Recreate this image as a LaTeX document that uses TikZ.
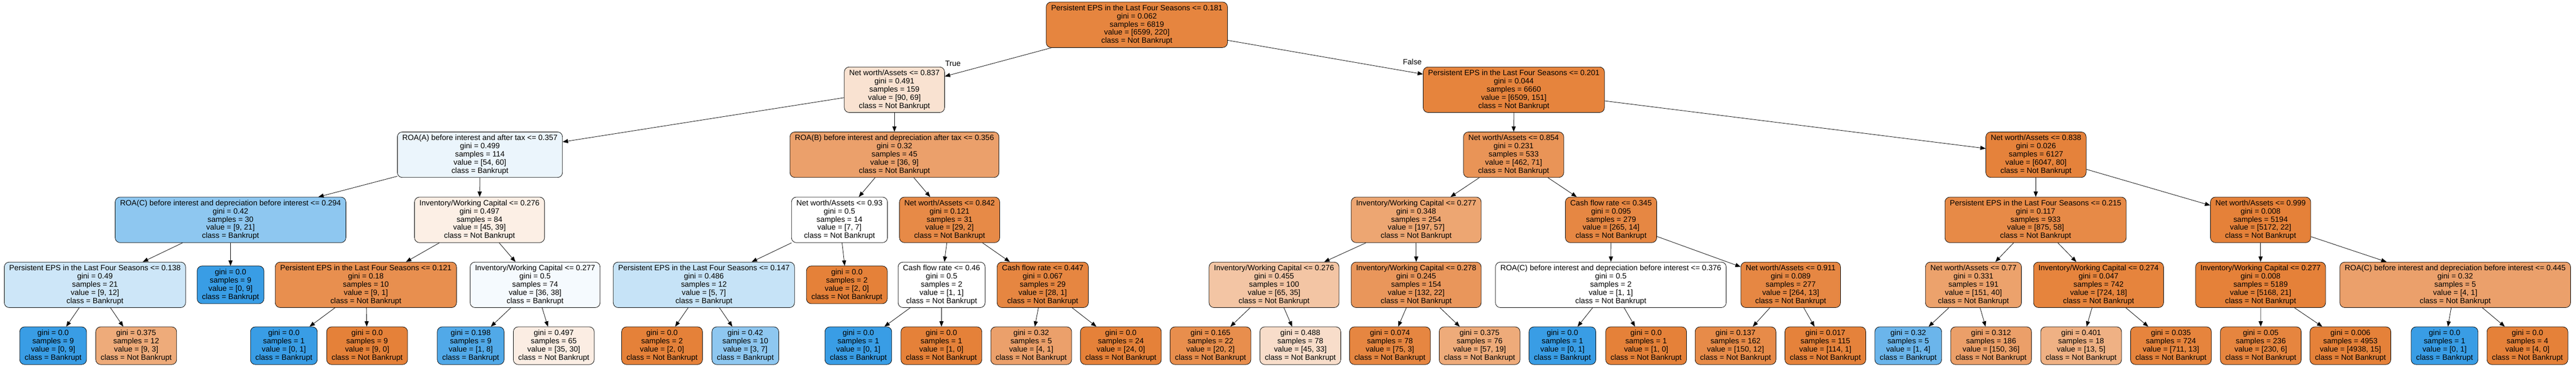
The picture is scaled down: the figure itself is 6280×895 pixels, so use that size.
\documentclass[tikz,border=0pt]{standalone}
\usepackage{fontspec}
\setmainfont{Liberation Sans}
\usetikzlibrary{arrows.meta, positioning}
\definecolor{nbk}{RGB}{229,129,57}
\definecolor{bk}{RGB}{57,157,229}

\begin{document}
\begin{tikzpicture}[
    x=1pt, y=-1pt,
    every node/.style={draw, rounded corners=12pt, line width=1pt, align=center, inner xsep=12pt, font=\fontsize{18.7pt}{20pt}\selectfont}, % one look for all boxes
    split/.style={minimum height=111pt},
    leaf/.style={minimum height=92pt},
    line/.style={draw, -{Triangle[length=13pt, width=10pt]}, line width=1pt},
    edgelabel/.style={draw=none, fill=none, inner sep=0pt}
]

\path[use as bounding box, fill=white] (0,0) rectangle (6280,895);

% Root
\node[split, fill=nbk!97] (r) at (2771.5,60.5) {Persistent EPS in the Last Four Seasons <= 0.181\\ gini = 0.062\\ samples = 6819\\ value = [6599, 220]\\ class = Not Bankrupt};

% Depth 1
\node[split, fill=nbk!23] (rl) at (2180.5,219) {Net worth/Assets <= 0.837\\ gini = 0.491\\ samples = 159\\ value = [90, 69]\\ class = Not Bankrupt};
\node[split, fill=nbk!98, node distance=1510pt, right of=rl] (rr) {Persistent EPS in the Last Four Seasons <= 0.201\\ gini = 0.044\\ samples = 6660\\ value = [6509, 151]\\ class = Not Bankrupt};

% Depth 2
\node[split, fill=bk!10] (rll) at (1170,377.5) {ROA(A) before interest and after tax <= 0.357\\ gini = 0.499\\ samples = 114\\ value = [54, 60]\\ class = Bankrupt};
\node[split, fill=nbk!75, node distance=1010.5pt, right of=rll] (rlr) {ROA(B) before interest and depreciation after tax <= 0.356\\ gini = 0.32\\ samples = 45\\ value = [36, 9]\\ class = Not Bankrupt};
\node[split, fill=nbk!85, node distance=1509.5pt, right of=rlr] (rrl) {Net worth/Assets <= 0.854\\ gini = 0.231\\ samples = 533\\ value = [462, 71]\\ class = Not Bankrupt};
\node[split, fill=nbk!99, node distance=1273.5pt, right of=rrl] (rrr) {Net worth/Assets <= 0.838\\ gini = 0.026\\ samples = 6127\\ value = [6047, 80]\\ class = Not Bankrupt};

% Depth 3
\node[split, fill=bk!57] (rlll) at (562,536.5) {ROA(C) before interest and depreciation before interest <= 0.294\\ gini = 0.42\\ samples = 30\\ value = [9, 21]\\ class = Bankrupt};
\node[split, fill=nbk!13, node distance=607pt, right of=rlll] (rllr) {Inventory/Working Capital <= 0.276\\ gini = 0.497\\ samples = 84\\ value = [45, 39]\\ class = Not Bankrupt};
\node[split, fill=white, node distance=877.5pt, right of=rllr] (rlrl) {Net worth/Assets <= 0.93\\ gini = 0.5\\ samples = 14\\ value = [7, 7]\\ class = Not Bankrupt};
\node[split, fill=nbk!93, node distance=268.5pt, right of=rlrl] (rlrr) {Net worth/Assets <= 0.842\\ gini = 0.121\\ samples = 31\\ value = [29, 2]\\ class = Not Bankrupt};
\node[split, fill=nbk!71, node distance=1137.5pt, right of=rlrr] (rrll) {Inventory/Working Capital <= 0.277\\ gini = 0.348\\ samples = 254\\ value = [197, 57]\\ class = Not Bankrupt};
\node[split, fill=nbk!95, node distance=475pt, right of=rrll] (rrlr) {Cash flow rate <= 0.345\\ gini = 0.095\\ samples = 279\\ value = [265, 14]\\ class = Not Bankrupt};
\node[split, fill=nbk!93, node distance=1035pt, right of=rrlr] (rrrl) {Persistent EPS in the Last Four Seasons <= 0.215\\ gini = 0.117\\ samples = 933\\ value = [875, 58]\\ class = Not Bankrupt};
\node[split, fill=nbk, node distance=548.5pt, right of=rrrl] (rrrr) {Net worth/Assets <= 0.999\\ gini = 0.008\\ samples = 5194\\ value = [5172, 22]\\ class = Not Bankrupt};

% Depth 4
\node[split, fill=bk!25] (rllll) at (231.5,695) {Persistent EPS in the Last Four Seasons <= 0.138\\ gini = 0.49\\ samples = 21\\ value = [9, 12]\\ class = Bankrupt};
\node[leaf, fill=bk, node distance=330.5pt, right of=rllll] (rlllr) {gini = 0.0\\ samples = 9\\ value = [0, 9]\\ class = Bankrupt};
\node[split, fill=nbk!89, node distance=330pt, right of=rlllr] (rllrl) {Persistent EPS in the Last Four Seasons <= 0.121\\ gini = 0.18\\ samples = 10\\ value = [9, 1]\\ class = Not Bankrupt};
\node[split, fill=bk!5, node distance=412.5pt, right of=rllrl] (rllrr) {Inventory/Working Capital <= 0.277\\ gini = 0.5\\ samples = 74\\ value = [36, 38]\\ class = Bankrupt};
\node[split, fill=bk!29, node distance=411.5pt, right of=rllrr] (rlrll) {Persistent EPS in the Last Four Seasons <= 0.147\\ gini = 0.486\\ samples = 12\\ value = [5, 7]\\ class = Bankrupt};
\node[leaf, fill=nbk, node distance=348.5pt, right of=rlrll] (rlrlr) {gini = 0.0\\ samples = 2\\ value = [2, 0]\\ class = Not Bankrupt};
\node[split, fill=white, node distance=231pt, right of=rlrlr] (rlrrl) {Cash flow rate <= 0.46\\ gini = 0.5\\ samples = 2\\ value = [1, 1]\\ class = Not Bankrupt};
\node[split, fill=nbk!96, node distance=246.5pt, right of=rlrrl] (rlrrr) {Cash flow rate <= 0.447\\ gini = 0.067\\ samples = 29\\ value = [28, 1]\\ class = Not Bankrupt};
\node[split, fill=nbk!46, node distance=564pt, right of=rlrrr] (rrlll) {Inventory/Working Capital <= 0.276\\ gini = 0.455\\ samples = 100\\ value = [65, 35]\\ class = Not Bankrupt};
\node[split, fill=nbk!83, node distance=346.5pt, right of=rrlll] (rrllr) {Inventory/Working Capital <= 0.278\\ gini = 0.245\\ samples = 154\\ value = [132, 22]\\ class = Not Bankrupt};
\node[split, fill=white, node distance=474.5pt, right of=rrllr] (rrlrl) {ROA(C) before interest and depreciation before interest <= 0.376\\ gini = 0.5\\ samples = 2\\ value = [1, 1]\\ class = Not Bankrupt};
\node[split, fill=nbk!95, node distance=438.5pt, right of=rrlrl] (rrlrr) {Net worth/Assets <= 0.911\\ gini = 0.089\\ samples = 277\\ value = [264, 13]\\ class = Not Bankrupt};
\node[split, fill=nbk!74, node distance=445.5pt, right of=rrlrr] (rrrll) {Net worth/Assets <= 0.77\\ gini = 0.331\\ samples = 191\\ value = [151, 40]\\ class = Not Bankrupt};
\node[split, fill=nbk!98, node distance=305pt, right of=rrrll] (rrrlr) {Inventory/Working Capital <= 0.274\\ gini = 0.047\\ samples = 742\\ value = [724, 18]\\ class = Not Bankrupt};
\node[split, fill=nbk, node distance=395pt, right of=rrrlr] (rrrrl) {Inventory/Working Capital <= 0.277\\ gini = 0.008\\ samples = 5189\\ value = [5168, 21]\\ class = Not Bankrupt};
\node[split, fill=nbk!75, node distance=474.5pt, right of=rrrrl] (rrrrr) {ROA(C) before interest and depreciation before interest <= 0.445\\ gini = 0.32\\ samples = 5\\ value = [4, 1]\\ class = Not Bankrupt};

% Depth 5 (leaves)
\node[leaf, fill=bk] (rlllll) at (129.5,843.5) {gini = 0.0\\ samples = 9\\ value = [0, 9]\\ class = Bankrupt};
\node[leaf, fill=nbk!67, node distance=202.5pt, right of=rlllll] (rllllr) {gini = 0.375\\ samples = 12\\ value = [9, 3]\\ class = Not Bankrupt};
\node[leaf, fill=bk, node distance=360pt, right of=rllllr] (rllrll) {gini = 0.0\\ samples = 1\\ value = [0, 1]\\ class = Bankrupt};
\node[leaf, fill=nbk, node distance=203pt, right of=rllrll] (rllrlr) {gini = 0.0\\ samples = 9\\ value = [9, 0]\\ class = Not Bankrupt};
\node[leaf, fill=bk!88, node distance=252.5pt, right of=rllrlr] (rllrrl) {gini = 0.198\\ samples = 9\\ value = [1, 8]\\ class = Bankrupt};
\node[leaf, fill=nbk!14, node distance=202.5pt, right of=rllrrl] (rllrrr) {gini = 0.497\\ samples = 65\\ value = [35, 30]\\ class = Not Bankrupt};
\node[leaf, fill=nbk, node distance=264pt, right of=rllrrr] (rlrlll) {gini = 0.0\\ samples = 2\\ value = [2, 0]\\ class = Not Bankrupt};
\node[leaf, fill=bk!57, node distance=203pt, right of=rlrlll] (rlrllr) {gini = 0.42\\ samples = 10\\ value = [3, 7]\\ class = Bankrupt};
\node[leaf, fill=bk, node distance=275.5pt, right of=rlrllr] (rlrrll) {gini = 0.0\\ samples = 1\\ value = [0, 1]\\ class = Bankrupt};
\node[leaf, fill=nbk, node distance=202.5pt, right of=rlrrll] (rlrrlr) {gini = 0.0\\ samples = 1\\ value = [1, 0]\\ class = Not Bankrupt};
\node[leaf, fill=nbk!75, node distance=219pt, right of=rlrrlr] (rlrrrl) {gini = 0.32\\ samples = 5\\ value = [4, 1]\\ class = Not Bankrupt};
\node[leaf, fill=nbk, node distance=218.5pt, right of=rlrrrl] (rlrrrr) {gini = 0.0\\ samples = 24\\ value = [24, 0]\\ class = Not Bankrupt};
\node[leaf, fill=nbk!90, node distance=218.5pt, right of=rlrrrr] (rrllll) {gini = 0.165\\ samples = 22\\ value = [20, 2]\\ class = Not Bankrupt};
\node[leaf, fill=nbk!27, node distance=219pt, right of=rrllll] (rrlllr) {gini = 0.488\\ samples = 78\\ value = [45, 33]\\ class = Not Bankrupt};
\node[leaf, fill=nbk!96, node distance=218.5pt, right of=rrlllr] (rrllrl) {gini = 0.074\\ samples = 78\\ value = [75, 3]\\ class = Not Bankrupt};
\node[leaf, fill=nbk!67, node distance=218.5pt, right of=rrllrl] (rrllrr) {gini = 0.375\\ samples = 76\\ value = [57, 19]\\ class = Not Bankrupt};
\node[leaf, fill=bk, node distance=202pt, right of=rrllrr] (rrlrll) {gini = 0.0\\ samples = 1\\ value = [0, 1]\\ class = Bankrupt};
\node[leaf, fill=nbk, node distance=204pt, right of=rrlrll] (rrlrlr) {gini = 0.0\\ samples = 1\\ value = [1, 0]\\ class = Not Bankrupt};
\node[leaf, fill=nbk!92, node distance=218pt, right of=rrlrlr] (rrlrrl) {gini = 0.137\\ samples = 162\\ value = [150, 12]\\ class = Not Bankrupt};
\node[leaf, fill=nbk!99, node distance=219pt, right of=rrlrrl] (rrlrrr) {gini = 0.017\\ samples = 115\\ value = [114, 1]\\ class = Not Bankrupt};
\node[leaf, fill=bk!75, node distance=202pt, right of=rrlrrr] (rrrlll) {gini = 0.32\\ samples = 5\\ value = [1, 4]\\ class = Bankrupt};
\node[leaf, fill=nbk!76, node distance=202pt, right of=rrrlll] (rrrllr) {gini = 0.312\\ samples = 186\\ value = [150, 36]\\ class = Not Bankrupt};
\node[leaf, fill=nbk!62, node distance=219.5pt, right of=rrrllr] (rrrlrl) {gini = 0.401\\ samples = 18\\ value = [13, 5]\\ class = Not Bankrupt};
\node[leaf, fill=nbk!98, node distance=219pt, right of=rrrlrl] (rrrlrr) {gini = 0.035\\ samples = 724\\ value = [711, 13]\\ class = Not Bankrupt};
\node[leaf, fill=nbk!97, node distance=219pt, right of=rrrlrr] (rrrrll) {gini = 0.05\\ samples = 236\\ value = [230, 6]\\ class = Not Bankrupt};
\node[leaf, fill=nbk, node distance=218.5pt, right of=rrrrll] (rrrrlr) {gini = 0.006\\ samples = 4953\\ value = [4938, 15]\\ class = Not Bankrupt};
\node[leaf, fill=bk, node distance=229.5pt, right of=rrrrlr] (rrrrrl) {gini = 0.0\\ samples = 1\\ value = [0, 1]\\ class = Bankrupt};
\node[leaf, fill=nbk, node distance=202pt, right of=rrrrrl] (rrrrrr) {gini = 0.0\\ samples = 4\\ value = [4, 0]\\ class = Not Bankrupt};

% Labels on the root's two edges
\node[edgelabel] (ltrue) at (2323,155) {True};
\node[edgelabel] (lfalse) at (3443,151) {False};

% Arrows
\path[line] (r) -- (rl);
\path[line] (r) -- (rr);
\path[line] (rl) -- (rll);
\path[line] (rl) -- (rlr);
\path[line] (rr) -- (rrl);
\path[line] (rr) -- (rrr);
\path[line] (rll) -- (rlll);
\path[line] (rll) -- (rllr);
\path[line] (rlr) -- (rlrl);
\path[line] (rlr) -- (rlrr);
\path[line] (rrl) -- (rrll);
\path[line] (rrl) -- (rrlr);
\path[line] (rrr) -- (rrrl);
\path[line] (rrr) -- (rrrr);
\path[line] (rlll) -- (rllll);
\path[line] (rlll) -- (rlllr);
\path[line] (rllr) -- (rllrl);
\path[line] (rllr) -- (rllrr);
\path[line] (rlrl) -- (rlrll);
\path[line] (rlrl) -- (rlrlr);
\path[line] (rlrr) -- (rlrrl);
\path[line] (rlrr) -- (rlrrr);
\path[line] (rrll) -- (rrlll);
\path[line] (rrll) -- (rrllr);
\path[line] (rrlr) -- (rrlrl);
\path[line] (rrlr) -- (rrlrr);
\path[line] (rrrl) -- (rrrll);
\path[line] (rrrl) -- (rrrlr);
\path[line] (rrrr) -- (rrrrl);
\path[line] (rrrr) -- (rrrrr);
\path[line] (rllll) -- (rlllll);
\path[line] (rllll) -- (rllllr);
\path[line] (rllrl) -- (rllrll);
\path[line] (rllrl) -- (rllrlr);
\path[line] (rllrr) -- (rllrrl);
\path[line] (rllrr) -- (rllrrr);
\path[line] (rlrll) -- (rlrlll);
\path[line] (rlrll) -- (rlrllr);
\path[line] (rlrrl) -- (rlrrll);
\path[line] (rlrrl) -- (rlrrlr);
\path[line] (rlrrr) -- (rlrrrl);
\path[line] (rlrrr) -- (rlrrrr);
\path[line] (rrlll) -- (rrllll);
\path[line] (rrlll) -- (rrlllr);
\path[line] (rrllr) -- (rrllrl);
\path[line] (rrllr) -- (rrllrr);
\path[line] (rrlrl) -- (rrlrll);
\path[line] (rrlrl) -- (rrlrlr);
\path[line] (rrlrr) -- (rrlrrl);
\path[line] (rrlrr) -- (rrlrrr);
\path[line] (rrrll) -- (rrrlll);
\path[line] (rrrll) -- (rrrllr);
\path[line] (rrrlr) -- (rrrlrl);
\path[line] (rrrlr) -- (rrrlrr);
\path[line] (rrrrl) -- (rrrrll);
\path[line] (rrrrl) -- (rrrrlr);
\path[line] (rrrrr) -- (rrrrrl);
\path[line] (rrrrr) -- (rrrrrr);

\end{tikzpicture}
\end{document}
